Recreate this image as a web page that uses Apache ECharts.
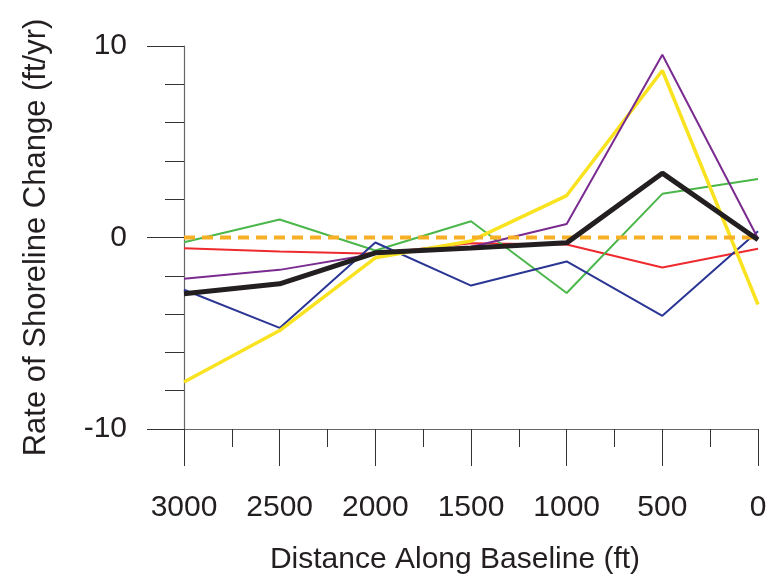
<!DOCTYPE html>
<html>
<head>
<meta charset="utf-8">
<script src="https://cdn.jsdelivr.net/npm/echarts@6/dist/echarts.min.js"></script>
<style>
  html, body { margin: 0; padding: 0; background: #fff; }
  #chart { width: 775px; height: 581px; }
</style>
</head>
<body>
<div id="chart"></div>
<script>
// distance along baseline (ft)
const distances = [3000, 2500, 2000, 1500, 1000, 500, 0];
// rate of shoreline change (ft/yr)
const redRates    = [-0.56, -0.73, -0.85, -0.30, -0.37, -1.57, -0.59];
const greenRates  = [-0.25, 0.94, -0.68, 0.85, -2.90, 2.28, 3.06];
const blueRates   = [-2.73, -4.72, -0.26, -2.51, -1.25, -4.09, 0.33];
const yellowRates = [-7.55, -4.86, -1.06, -0.18, 2.19, 8.72, -3.50];
const purpleRates = [-2.16, -1.69, -0.85, -0.50, 0.71, 9.54, -0.05];
const zeroRates   = [0, 0, 0, 0, 0, 0, 0];
const meanRates   = [-2.94, -2.42, -0.80, -0.55, -0.28, 3.36, -0.12];

const xTicks = [0, 3000, 500];   // min, max, label step
const yTicks = [-10, 10, 10];

const font = "'Liberation Sans', Arial, sans-serif";
const ink = '#231f20';

const pairs = vals => distances.map((d, i) => [d, vals[i]]);

const line = (name, vals, color, width, dash) => ({
  name,
  type: 'line',
  data: pairs(vals),
  symbol: 'none',
  silent: true,
  lineStyle: { color, width, type: dash || 'solid', cap: 'butt' }
});

const chart = echarts.init(document.getElementById('chart'), null, { renderer: 'canvas' });

chart.setOption({
  animation: false,
  backgroundColor: '#fff',
  grid: { left: 184, right: 17, top: 46, bottom: 152 },
  xAxis: [
    {
      type: 'value', inverse: true,
      min: xTicks[0], max: xTicks[1], interval: xTicks[2],
      name: 'Distance Along Baseline (ft)',
      nameLocation: 'middle', nameGap: 116,
      nameTextStyle: { fontFamily: font, fontSize: 30, color: ink, padding: [0, 32, 0, 0] },
      axisLine: { show: true, onZero: false, lineStyle: { color: '#666', width: 1.2 } },
      axisTick: { show: true, length: 37, lineStyle: { color: '#333', width: 1 } },
      axisLabel: { margin: 64, fontFamily: font, fontSize: 30, color: ink, formatter: v => String(v) },
      splitLine: { show: false }
    },
    {
      type: 'value', inverse: true,
      min: xTicks[0], max: xTicks[1], interval: xTicks[2] / 2,
      position: 'bottom',
      axisLine: { show: false, onZero: false },
      axisTick: { show: true, length: 18, lineStyle: { color: '#333', width: 1 } },
      axisLabel: { show: false },
      splitLine: { show: false }
    }
  ],
  yAxis: [
    {
      type: 'value',
      min: yTicks[0], max: yTicks[1], interval: yTicks[2],
      name: 'Rate of Shoreline Change (ft/yr)',
      nameLocation: 'middle', nameGap: 132,
      nameTextStyle: { fontFamily: font, fontSize: 31, color: ink },
      axisLine: { show: true, onZero: false, lineStyle: { color: '#666', width: 1.2 } },
      axisTick: { show: true, length: 37, lineStyle: { color: '#333', width: 1 } },
      axisLabel: { margin: 57, fontFamily: font, fontSize: 30, color: ink },
      splitLine: { show: false }
    },
    {
      type: 'value',
      min: yTicks[0], max: yTicks[1], interval: 2,
      position: 'left',
      axisLine: { show: false, onZero: false },
      axisTick: { show: true, length: 19, lineStyle: { color: '#333', width: 1 } },
      axisLabel: { show: false },
      splitLine: { show: false }
    }
  ],
  series: [
    line('red', redRates, '#ee2a2e', 2),
    line('green', greenRates, '#4bb649', 2),
    line('blue', blueRates, '#2b3694', 2),
    line('yellow', yellowRates, '#f9e21f', 3.5),
    line('purple', purpleRates, '#7a2b8f', 2),
    line('zero', zeroRates, '#f7b026', 4, [11, 7]),
    line('mean', meanRates, '#231f20', 5)
  ]
});
</script>
</body>
</html>
